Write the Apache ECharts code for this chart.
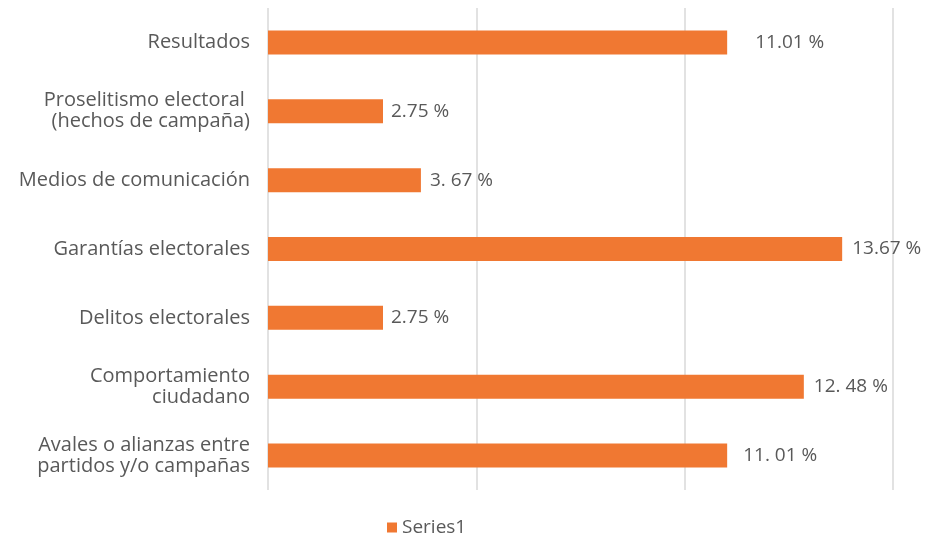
<!DOCTYPE html>
<html><head><meta charset="utf-8">
<script src="https://cdn.jsdelivr.net/npm/echarts@6/dist/echarts.min.js"></script>
<style>html,body{margin:0;padding:0;background:#fff}#c{width:929px;height:533px}</style>
</head><body><div id="c"></div>
<script>
const categories = [
  "Resultados",
  "Proselitismo electoral \n(hechos de campaña)",
  "Medios de comunicación",
  "Garantías electorales",
  "Delitos electorales",
  "Comportamiento\nciudadano",
  "Avales o alianzas entre\npartidos y/o campañas"
];
// bar lengths as drawn in the picture
const values = [11.02, 2.76, 3.67, 13.78, 2.76, 12.86, 11.02];
// data label texts as printed in the picture
const valueLabels = ["11.01 %", "2.75 %", "3. 67 %", "13.67 %", "2.75 %", "12. 48 %", "11. 01 %"];
const seriesName = "Series1";
const labelDistances = [28, 8, 9, 10, 8, 10, 16];

const chart = echarts.init(document.getElementById('c'));
const font = "'Open Sans', 'Noto Sans', sans-serif";
chart.setOption({
  animation: false,
  grid: {left: 268, right: 36, top: 8, bottom: 43, containLabel: false},
  legend: {
    data: [seriesName], left: 382, top: 513, itemWidth: 10, itemHeight: 10, itemGap: 9,
    icon: 'rect',
    textStyle: {color: '#595959', fontSize: 19, fontFamily: font}
  },
  xAxis: {
    type: 'value', min: 0, max: 15, interval: 5,
    axisLabel: {show: false}, axisLine: {show: false}, axisTick: {show: false},
    splitLine: {show: true, lineStyle: {color: '#d9d9d9', width: 1.5}}
  },
  yAxis: {
    type: 'category', inverse: true, data: categories,
    axisLine: {show: false}, axisTick: {show: false},
    axisLabel: {color: '#595959', fontSize: 20, fontFamily: font, margin: 18, lineHeight: 21, align: 'right'}
  },
  series: [{
    name: seriesName, type: 'bar', barWidth: 24,
    itemStyle: {color: '#F07832'},
    data: values.map((v, i) => ({
      value: v,
      label: {show: true, position: 'right', distance: labelDistances[i],
        formatter: () => valueLabels[i], color: '#595959', fontSize: 19, fontFamily: font}
    }))
  }]
});
</script></body></html>
